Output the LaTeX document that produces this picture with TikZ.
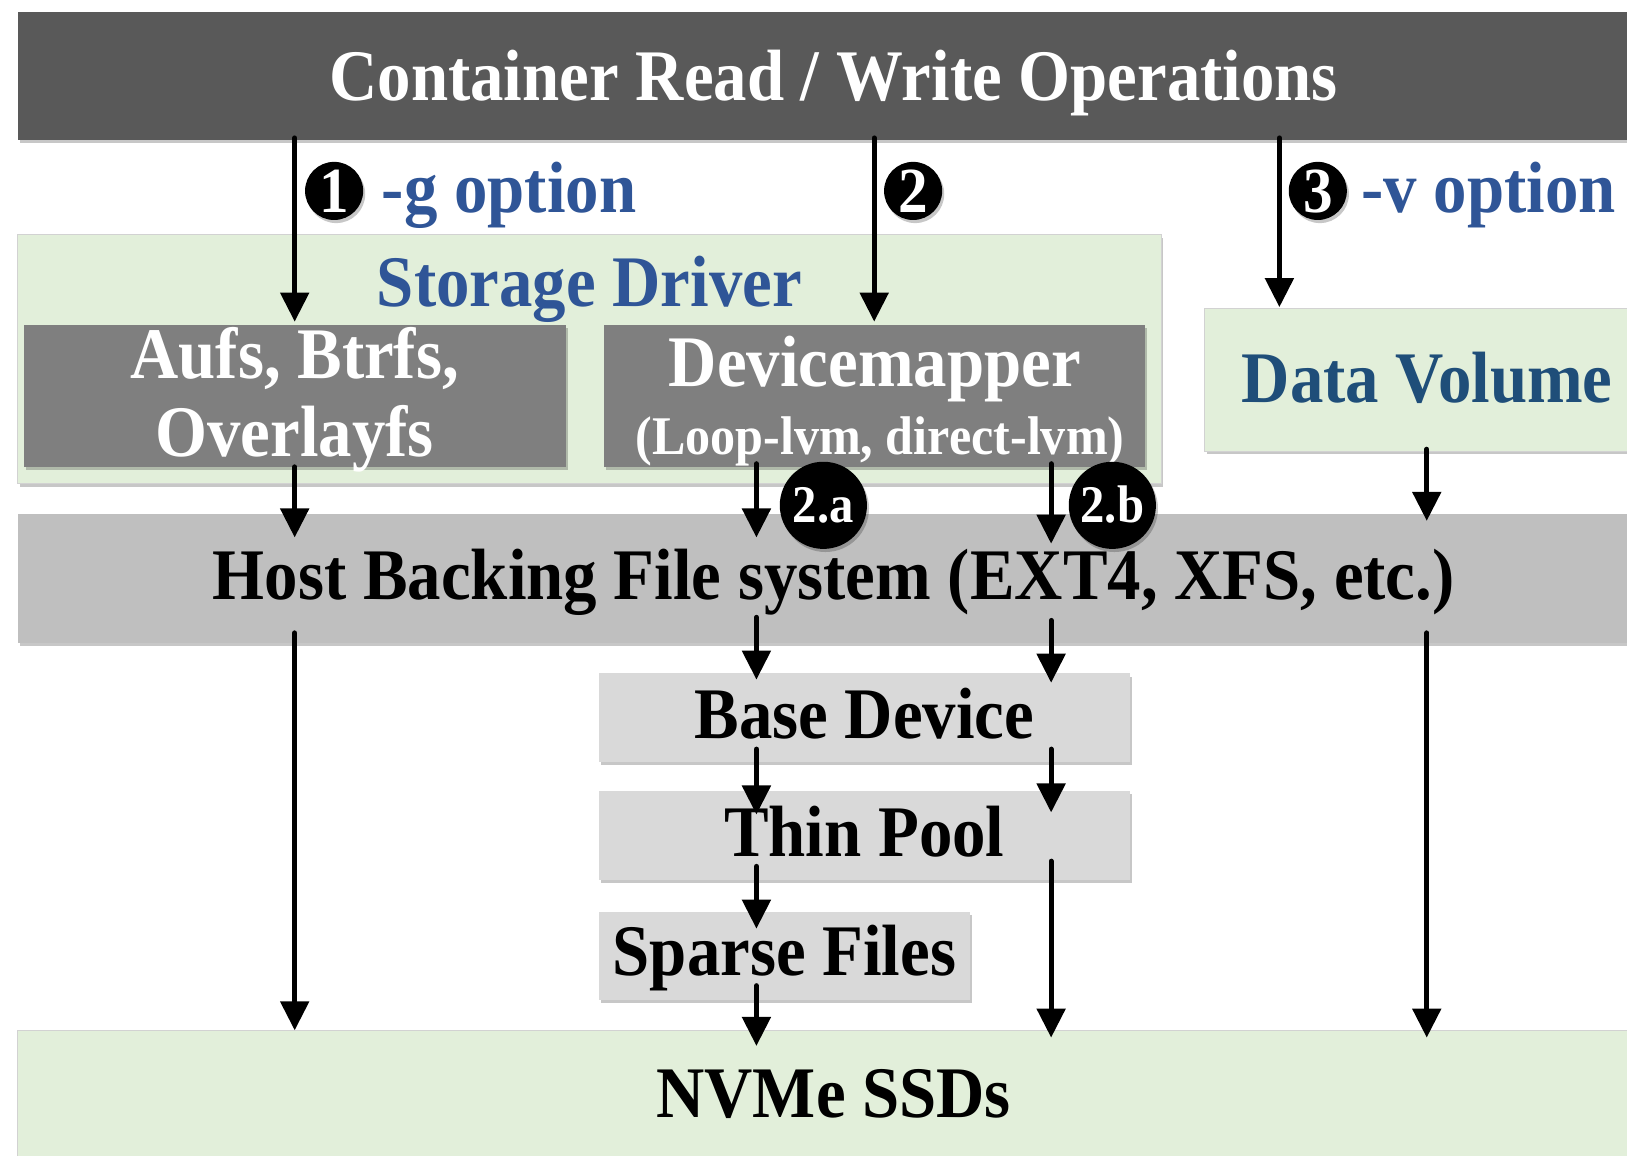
\documentclass[tikz,border=0pt]{standalone}
\usepackage{fontspec}
\setmainfont{Liberation Serif}[FakeStretch=0.92]
\usetikzlibrary{arrows.meta,shadows}

\definecolor{opsgray}{HTML}{595959}
\definecolor{drvgray}{HTML}{7F7F7F}
\definecolor{hostgray}{HTML}{BFBFBF}
\definecolor{dmgray}{HTML}{D9D9D9}
\definecolor{lightgreen}{HTML}{E2EFDA}
\definecolor{optblue}{HTML}{2F5597}
\definecolor{volblue}{HTML}{1F4E79}
\definecolor{edgegray}{HTML}{D2D2D2}

\newcommand\bigtext{\fontsize{70}{80}\selectfont\bfseries}
\newcommand\smalltext{\fontsize{52.5}{60}\selectfont\bfseries}

\tikzset{
  layer/.style={rectangle, inner sep=0pt, outer sep=0pt, font=\bigtext, text depth=0pt},
  softshadow/.style={drop shadow={shadow xshift=2pt, shadow yshift=-3pt, fill=black, opacity=0.22}},
  greenbox/.style={layer, fill=lightgreen, draw=edgegray, line width=1pt, softshadow},
  label/.style={inner sep=0pt, outer sep=0pt, font=\bigtext, anchor=base},
  arr/.style={line width=5pt, line cap=round, -{Triangle[length=28pt,width=27pt]}},
  num/.style={circle, fill=black, text=white, minimum size=56pt, inner sep=0pt,
              font=\fontsize{62}{62}\selectfont\bfseries, text height=42pt, text depth=0pt, softshadow},
  badge/.style={circle, fill=black, text=white, minimum size=84pt, inner sep=0pt,
                font=\fontsize{51}{51}\selectfont\bfseries, text height=33pt, text depth=0pt, softshadow},
}

\begin{document}
\begin{tikzpicture}[x=1pt, y=-1pt]
\useasboundingbox (0,0) rectangle (1568,1114);
\fill[white] (0,0) rectangle (1568,1114);

% top layer
\node[layer, fill=opsgray, text=white, text height=47pt, minimum width=1573pt, minimum height=123pt, softshadow]
  (ops) at (803.5,73.5) {Container Read / Write Operations};

% storage driver group
\node[greenbox, minimum width=1102pt, minimum height=240pt] (drv) at (568,346) {};
\node[label, text=optblue] (drvname) at (568,295) {Storage Driver};

\node[layer, fill=drvgray, minimum width=522pt, minimum height=137pt, softshadow]
  (aufs) at (284,381.5) {};
\node[label, text=white] (aufsa) at (284,365) {Aufs, Btrfs,};
\node[label, text=white] (aufsb) at (284,440) {Overlayfs};
\node[layer, fill=drvgray, minimum width=521pt, minimum height=137pt, softshadow]
  (dm) at (842.5,381.5) {};
\node[label, text=white] (dmname) at (843,372) {Devicemapper};
\node[label, font=\smalltext, text=white] (dmmode) at (848,438) {(Loop-lvm, direct-lvm)};

% data volume
\node[greenbox, text=volblue, text height=44pt, minimum width=429pt, minimum height=138pt]
  (dv) at (1375.5,366) {Data Volume};

% host file system
\node[layer, fill=hostgray, text height=41pt, minimum width=1573pt, minimum height=125pt, softshadow]
  (host) at (803.5,557.5) {Host Backing File system (EXT4, XFS, etc.)};

% devicemapper stack
\node[layer, fill=dmgray, text height=41pt, minimum width=512pt, minimum height=85pt, softshadow]
  (base) at (833,691.5) {Base Device};
\node[layer, fill=dmgray, text height=40pt, minimum width=512pt, minimum height=86pt, softshadow]
  (thin) at (833,805) {Thin Pool};
\node[layer, fill=dmgray, text height=37pt, minimum width=358pt, minimum height=85pt, softshadow]
  (sparse) at (756,921.5) {Sparse Files};

% devices
\node[greenbox, text=black, text height=44pt, minimum width=1573pt, minimum height=124pt]
  (nvme) at (803.5,1055) {NVMe SSDs};

% column positions of the vertical paths
\coordinate (colD) at (1233,0);
\coordinate (colA) at (729,0);
\coordinate (colB) at (1013,0);
\coordinate (colV) at (1375,0);

% paths from the container operations
\draw[arr, shorten <=-2pt, shorten >=3pt] (ops.south -| aufs) -- (aufs.north);
\draw[arr, shorten <=-2pt, shorten >=3pt] (ops.south -| dm) -- (dm.north);
\draw[arr, shorten <=-2pt, shorten >=1pt] (ops.south -| colD) -- (dv.north -| colD);

% into the host file system
\draw[arr, shorten >=-23pt] (aufs.south) -- (host.north -| aufs);
\draw[arr, shorten <=-3pt, shorten >=-23pt] (dm.south -| colA) -- (host.north -| colA);
\draw[arr, shorten <=-3pt, shorten >=-29pt] (dm.south -| colB) -- (host.north -| colB);
\draw[arr, shorten <=-2pt, shorten >=-7pt] (dv.south -| colV) -- (host.north -| colV);

% below the host file system
\draw[arr, shorten <=-10pt] (host.south -| aufs) -- (nvme.north -| aufs);
\draw[arr, shorten <=-25pt, shorten >=-6pt] (host.south -| colA) -- (base.north -| colA);
\draw[arr, shorten <=-22pt, shorten >=-9pt] (host.south -| colB) -- (base.north -| colB);
\draw[arr, shorten <=-12pt, shorten >=-23pt] (base.south -| colA) -- (thin.north -| colA);
\draw[arr, shorten <=-12pt, shorten >=-21pt] (base.south -| colB) -- (thin.north -| colB);
\draw[arr, shorten <=-13pt, shorten >=-16pt] (thin.south -| colA) -- (sparse.north -| colA);
\draw[arr, shorten <=-18pt, shorten >=-7pt] (thin.south -| colB) -- (nvme.north -| colB);
\draw[arr, shorten <=-14pt, shorten >=-15pt] (sparse.south -| colA) -- (nvme.north -| colA);
\draw[arr, shorten <=-10pt, shorten >=-7pt] (host.south -| colV) -- (nvme.north -| colV);

% numbered markers and option labels
\node[num] (n1) at (322,184) {1};
\node[label, text=optblue, anchor=base west] (gopt) at (368,205) {-g option};
\node[num] (n2) at (880,184) {2};
\node[num] (n3) at (1270,184) {3};
\node[label, text=optblue, anchor=base west] (vopt) at (1312,205) {-v option};

\node[badge] (b2a) at (793.5,487) {2.a};
\node[badge] (b2b) at (1072,487) {2.b};
\end{tikzpicture}
\end{document}
